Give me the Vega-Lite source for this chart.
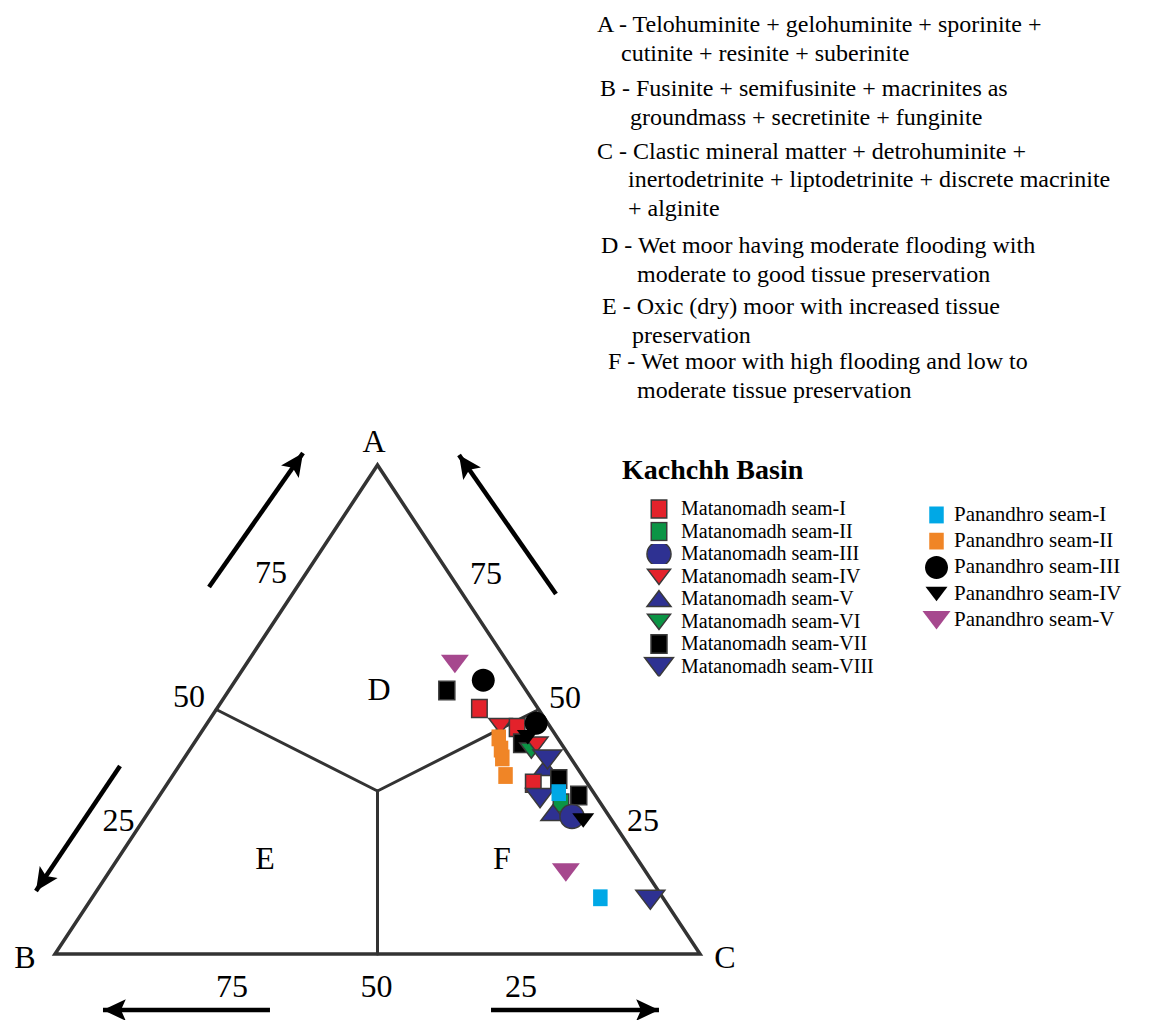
{
  "$schema": "https://vega.github.io/schema/vega-lite/v6.json",
  "width": 1149,
  "height": 1020,
  "padding": 0,
  "autosize": {"type": "none"},
  "background": "white",
  "config": {"view": {"stroke": null}, "font": "Liberation Serif"},
  "datasets": {
    "samples": [
      {"group": "Matanomadh", "series": "Matanomadh seam-VII", "A": 53.9, "B": 12.3, "C": 33.8},
      {"group": "Matanomadh", "series": "Matanomadh seam-I", "A": 50.2, "B": 9.1, "C": 40.7},
      {"group": "Matanomadh", "series": "Matanomadh seam-IV", "A": 46.7, "B": 7.6, "C": 45.7},
      {"group": "Matanomadh", "series": "Matanomadh seam-I", "A": 46.3, "B": 5.2, "C": 48.5},
      {"group": "Matanomadh", "series": "Matanomadh seam-VII", "A": 43.1, "B": 6.1, "C": 50.8},
      {"group": "Matanomadh", "series": "Matanomadh seam-VI", "A": 41.7, "B": 5.3, "C": 53.0},
      {"group": "Matanomadh", "series": "Matanomadh seam-IV", "A": 42.9, "B": 3.9, "C": 53.2},
      {"group": "Matanomadh", "series": "Matanomadh seam-V", "A": 38.0, "B": 5.0, "C": 57.0},
      {"group": "Matanomadh", "series": "Matanomadh seam-VIII", "A": 39.9, "B": 3.7, "C": 56.4},
      {"group": "Matanomadh", "series": "Matanomadh seam-VII", "A": 35.8, "B": 4.0, "C": 60.2},
      {"group": "Matanomadh", "series": "Matanomadh seam-I", "A": 34.9, "B": 8.4, "C": 56.7},
      {"group": "Matanomadh", "series": "Matanomadh seam-VIII", "A": 32.0, "B": 8.8, "C": 59.2},
      {"group": "Matanomadh", "series": "Matanomadh seam-II", "A": 30.9, "B": 6.1, "C": 63.0},
      {"group": "Matanomadh", "series": "Matanomadh seam-VII", "A": 32.4, "B": 2.6, "C": 65.0},
      {"group": "Matanomadh", "series": "Matanomadh seam-V", "A": 28.8, "B": 8.4, "C": 62.8},
      {"group": "Matanomadh", "series": "Matanomadh seam-III", "A": 28.1, "B": 5.8, "C": 66.1},
      {"group": "Matanomadh", "series": "Matanomadh seam-VIII", "A": 11.2, "B": 2.1, "C": 86.7},
      {"group": "Panandhro", "series": "Panandhro seam-V", "A": 59.4, "B": 8.3, "C": 32.3},
      {"group": "Panandhro", "series": "Panandhro seam-III", "A": 56.0, "B": 5.6, "C": 38.4},
      {"group": "Panandhro", "series": "Panandhro seam-II", "A": 44.2, "B": 9.1, "C": 46.7},
      {"group": "Panandhro", "series": "Panandhro seam-II", "A": 41.9, "B": 9.9, "C": 48.2},
      {"group": "Panandhro", "series": "Panandhro seam-II", "A": 40.1, "B": 10.6, "C": 49.3},
      {"group": "Panandhro", "series": "Panandhro seam-II", "A": 36.5, "B": 11.9, "C": 51.6},
      {"group": "Panandhro", "series": "Panandhro seam-IV", "A": 44.4, "B": 4.5, "C": 51.1},
      {"group": "Panandhro", "series": "Panandhro seam-III", "A": 47.2, "B": 1.8, "C": 51.0},
      {"group": "Panandhro", "series": "Panandhro seam-I", "A": 33.0, "B": 5.4, "C": 61.6},
      {"group": "Panandhro", "series": "Panandhro seam-IV", "A": 27.4, "B": 4.4, "C": 68.2},
      {"group": "Panandhro", "series": "Panandhro seam-V", "A": 16.8, "B": 12.4, "C": 70.8},
      {"group": "Panandhro", "series": "Panandhro seam-I", "A": 11.5, "B": 9.7, "C": 78.8}
    ],
    "frame": [
      {"vertex": "B", "order": 1, "A": 0, "B": 100, "C": 0},
      {"vertex": "C", "order": 2, "A": 0, "B": 0, "C": 100},
      {"vertex": "A", "order": 3, "A": 100, "B": 0, "C": 0},
      {"vertex": "B", "order": 4, "A": 0, "B": 100, "C": 0},
      {"vertex": "C", "order": 5, "A": 0, "B": 0, "C": 100}
    ],
    "divides": [
      {"A": 33.333, "B": 33.333, "C": 33.333, "A2": 50, "B2": 50, "C2": 0},
      {"A": 33.333, "B": 33.333, "C": 33.333, "A2": 50, "B2": 0, "C2": 50},
      {"A": 33.333, "B": 33.333, "C": 33.333, "A2": 0, "B2": 50, "C2": 50}
    ],
    "arrows": [
      {"x": 0.2388, "y": 0.7505, "x2": 0.3845, "y2": 1.0245},
      {"x": 0.1008, "y": 0.3845, "x2": -0.0295, "y2": 0.1288},
      {"x": 0.7767, "y": 0.7362, "x2": 0.6264, "y2": 1.0204},
      {"x": 0.3333, "y": -0.1145, "x2": 0.0744, "y2": -0.1145},
      {"x": 0.6760, "y": -0.1145, "x2": 0.9364, "y2": -0.1145}
    ],
    "labels": [
      {"label": "A", "x": 0.4946, "y": 1.0470},
      {"label": "B", "x": -0.0465, "y": -0.0082},
      {"label": "C", "x": 1.0388, "y": -0.0082},
      {"label": "D", "x": 0.5023, "y": 0.5399},
      {"label": "E", "x": 0.3256, "y": 0.1943},
      {"label": "F", "x": 0.6930, "y": 0.1943},
      {"label": "75", "x": 0.3349, "y": 0.7791},
      {"label": "50", "x": 0.2078, "y": 0.5256},
      {"label": "25", "x": 0.0984, "y": 0.2720},
      {"label": "75", "x": 0.6682, "y": 0.7771},
      {"label": "50", "x": 0.7907, "y": 0.5235},
      {"label": "25", "x": 0.9116, "y": 0.2720},
      {"label": "75", "x": 0.2744, "y": -0.0675},
      {"label": "50", "x": 0.4984, "y": -0.0675},
      {"label": "25", "x": 0.7225, "y": -0.0675}
    ],
    "notes": [
      {"note": "A - Telohuminite + gelohuminite + sporinite +", "x": 0.8403, "y": 1.9243},
      {"note": "cutinite + resinite + suberinite", "x": 0.8775, "y": 1.8650},
      {"note": "B - Fusinite + semifusinite + macrinites as", "x": 0.8450, "y": 1.7935},
      {"note": "groundmass + secretinite + funginite", "x": 0.8915, "y": 1.7342},
      {"note": "C - Clastic mineral matter + detrohuminite +", "x": 0.8403, "y": 1.6646},
      {"note": "inertodetrinite + liptodetrinite + discrete macrinite", "x": 0.8884, "y": 1.6074},
      {"note": "+ alginite", "x": 0.8884, "y": 1.5481},
      {"note": "D - Wet moor having moderate flooding with", "x": 0.8465, "y": 1.4724},
      {"note": "moderate to good tissue preservation", "x": 0.9023, "y": 1.4131},
      {"note": "E - Oxic (dry) moor with increased tissue", "x": 0.8481, "y": 1.3476},
      {"note": "preservation", "x": 0.8946, "y": 1.2883},
      {"note": "F - Wet moor with high flooding and low to", "x": 0.8574, "y": 1.2352},
      {"note": "moderate tissue preservation", "x": 0.9023, "y": 1.1759}
    ]
  },
  "encoding": {
    "x": {"field": "x", "type": "quantitative", "scale": {"domain": [-0.08527, 1.69612], "nice": false, "zero": false}, "axis": null},
    "y": {"field": "y", "type": "quantitative", "scale": {"domain": [-0.13497, 1.95092], "nice": false, "zero": false}, "axis": null}
  },
  "layer": [
    {
      "data": {"name": "frame"},
      "transform": [
        {"calculate": "(datum.C + datum.A / 2) / 100", "as": "x"},
        {"calculate": "datum.A / 100", "as": "y"}
      ],
      "mark": {"type": "line", "color": "#333333", "strokeWidth": 3.5, "strokeJoin": "miter"},
      "encoding": {"order": {"field": "order", "type": "quantitative"}}
    },
    {
      "data": {"name": "divides"},
      "transform": [
        {"calculate": "(datum.C + datum.A / 2) / 100", "as": "x"},
        {"calculate": "datum.A / 100", "as": "y"},
        {"calculate": "(datum.C2 + datum.A2 / 2) / 100", "as": "x2"},
        {"calculate": "datum.A2 / 100", "as": "y2"}
      ],
      "mark": {"type": "rule", "color": "#333333", "strokeWidth": 3, "strokeCap": "round"},
      "encoding": {"x2": {"field": "x2"}, "y2": {"field": "y2"}}
    },
    {
      "data": {"name": "arrows"},
      "mark": {"type": "rule", "color": "#000000", "strokeWidth": 4.5},
      "encoding": {"x2": {"field": "x2"}, "y2": {"field": "y2"}}
    },
    {
      "data": {"name": "arrows"},
      "transform": [
        {"calculate": "atan2((datum.x2 - datum.x) * 645, (datum.y2 - datum.y) * 489) * 180 / PI", "as": "angle"},
        {"calculate": "datum.x2", "as": "x"},
        {"calculate": "datum.y2", "as": "y"}
      ],
      "mark": {"type": "point", "shape": "M0,0L0.9,1.9L0,1.5L-0.9,1.9Z", "filled": true, "color": "#000000", "opacity": 1, "size": 576, "strokeWidth": 0},
      "encoding": {"angle": {"field": "angle", "type": "quantitative", "scale": null}}
    },
    {
      "data": {"name": "labels"},
      "mark": {"type": "text", "font": "Liberation Serif", "fontSize": 32, "color": "#000000", "align": "center", "baseline": "middle"},
      "encoding": {"text": {"field": "label"}}
    },
    {
      "data": {"name": "notes"},
      "mark": {"type": "text", "font": "Liberation Serif", "fontSize": 24, "color": "#000000", "align": "left", "baseline": "top"},
      "encoding": {"text": {"field": "note"}}
    },
    {
      "data": {"name": "samples"},
      "transform": [
        {"filter": "datum.group === 'Matanomadh'"},
        {"calculate": "(datum.C + datum.A / 2) / 100", "as": "x"},
        {"calculate": "datum.A / 100", "as": "y"}
      ],
      "mark": {"type": "point", "filled": true, "opacity": 1, "stroke": "#3a3a3a", "strokeWidth": 1.5},
      "encoding": {
        "color": {
          "field": "series", "type": "nominal",
          "scale": {
            "domain": ["Matanomadh seam-I", "Matanomadh seam-II", "Matanomadh seam-III", "Matanomadh seam-IV", "Matanomadh seam-V", "Matanomadh seam-VI", "Matanomadh seam-VII", "Matanomadh seam-VIII"],
            "range": ["#e3222b", "#0b9445", "#2e3192", "#e3222b", "#2e3192", "#0b9445", "#000000", "#2e3192"]
          },
          "legend": {
            "title": "Kachchh Basin", "orient": "none", "legendX": 622, "legendY": 457, "padding": 0,
            "titleFont": "Liberation Serif", "titleFontSize": 28, "titleFontWeight": "bold", "titleColor": "#000000", "titlePadding": 14, "titleLimit": 500,
            "labelFont": "Liberation Serif", "labelFontSize": 20, "labelColor": "#000000", "labelLimit": 400, "labelOffset": 5,
            "symbolSize": 576, "symbolOffset": 20, "clipHeight": 20, "rowPadding": 2.5,
            "symbolOpacity": 1, "symbolStrokeColor": "#3a3a3a", "symbolStrokeWidth": 1.5,
            "encode": {"symbols": {"update": {"stroke": {"value": "#3a3a3a"}, "strokeWidth": {"value": 1.5}, "opacity": {"value": 1}}}}
          }
        },
        "shape": {
          "field": "series", "type": "nominal",
          "scale": {
            "domain": ["Matanomadh seam-I", "Matanomadh seam-II", "Matanomadh seam-III", "Matanomadh seam-IV", "Matanomadh seam-V", "Matanomadh seam-VI", "Matanomadh seam-VII", "Matanomadh seam-VIII"],
            "range": [
              "M-0.5,-0.58L0.5,-0.58L0.5,0.58L-0.5,0.58Z",
              "M-0.5,-0.58L0.5,-0.58L0.5,0.58L-0.5,0.58Z",
              "M0,-0.85A0.85,0.85 0 1,1 0,0.85A0.85,0.85 0 1,1 0,-0.85Z",
              "M-1,-0.62L1,-0.62L0,0.7Z",
              "M0,-0.7L1,0.62L-1,0.62Z",
              "M-1,-0.62L1,-0.62L0,0.7Z",
              "M-0.5,-0.58L0.5,-0.58L0.5,0.58L-0.5,0.58Z",
              "M-1,-0.62L1,-0.62L0,0.7Z"
            ]
          },
          "legend": {"title": "Kachchh Basin"}
        },
        "size": {
          "field": "series", "type": "nominal",
          "scale": {
            "type": "ordinal",
            "domain": ["Matanomadh seam-I", "Matanomadh seam-II", "Matanomadh seam-III", "Matanomadh seam-IV", "Matanomadh seam-V", "Matanomadh seam-VI", "Matanomadh seam-VII", "Matanomadh seam-VIII"],
            "range": [961, 961, 800, 529, 576, 529, 1024, 841]
          },
          "legend": null
        }
      }
    },
    {
      "data": {"name": "samples"},
      "transform": [
        {"filter": "datum.group === 'Panandhro'"},
        {"calculate": "(datum.C + datum.A / 2) / 100", "as": "x"},
        {"calculate": "datum.A / 100", "as": "y"}
      ],
      "mark": {"type": "point", "filled": true, "opacity": 1, "strokeWidth": 0},
      "encoding": {
        "color": {
          "field": "series", "type": "nominal",
          "scale": {
            "domain": ["Panandhro seam-I", "Panandhro seam-II", "Panandhro seam-III", "Panandhro seam-IV", "Panandhro seam-V"],
            "range": ["#00a8e6", "#f08526", "#000000", "#000000", "#a6488e"]
          },
          "legend": {
            "title": null, "orient": "none", "legendX": 922, "legendY": 503, "padding": 0,
            "labelFont": "Liberation Serif", "labelFontSize": 21, "labelColor": "#000000", "labelLimit": 400, "labelOffset": 3,
            "symbolSize": 576, "symbolOffset": 0, "clipHeight": 24, "rowPadding": 2.2,
            "symbolOpacity": 1, "symbolStrokeWidth": 0
          }
        },
        "shape": {
          "field": "series", "type": "nominal",
          "scale": {
            "domain": ["Panandhro seam-I", "Panandhro seam-II", "Panandhro seam-III", "Panandhro seam-IV", "Panandhro seam-V"],
            "range": [
              "M-0.5,-0.58L0.5,-0.58L0.5,0.58L-0.5,0.58Z",
              "M-0.5,-0.58L0.5,-0.58L0.5,0.58L-0.5,0.58Z",
              "M0,-0.85A0.85,0.85 0 1,1 0,0.85A0.85,0.85 0 1,1 0,-0.85Z",
              "M-1,-0.62L1,-0.62L0,0.7Z",
              "M-1,-0.62L1,-0.62L0,0.7Z"
            ]
          },
          "legend": {"title": null}
        },
        "size": {
          "field": "series", "type": "nominal",
          "scale": {
            "type": "ordinal",
            "domain": ["Panandhro seam-I", "Panandhro seam-II", "Panandhro seam-III", "Panandhro seam-IV", "Panandhro seam-V"],
            "range": [841, 841, 729, 484, 784]
          },
          "legend": null
        }
      }
    }
  ],
  "resolve": {"scale": {"color": "independent", "shape": "independent", "size": "independent"}}
}
